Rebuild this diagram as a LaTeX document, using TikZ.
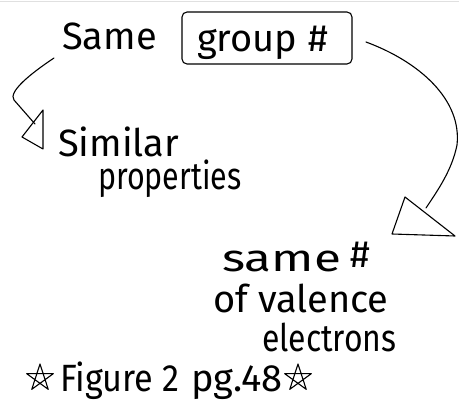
\documentclass[tikz,border=0pt]{standalone}
\usepackage{fontspec}
\setmainfont{Fira Sans}
\usetikzlibrary{calc}
\begin{document}
\begin{tikzpicture}[x=1pt,y=-1pt,
  hand/.style={line width=1.1pt,line cap=round,line join=round},
  lbl/.style={inner sep=0pt,anchor=base west,font=\fontsize{38}{40}\selectfont},
  sx/.style={xscale=#1,transform shape}]
\useasboundingbox (0,0) rectangle (459,414);
\draw[black!12,line width=0.8pt] (0,1) -- (459,1);
% texts
\node[lbl] (same) at (62,50) {Same};
\node[lbl] (grptxt) at (197,52) {group\hspace{0.3em}\#};
\node[hand,draw,rounded corners=5pt,minimum width=170pt,minimum height=52pt] (grp) at (267,38) {};
\node[lbl] (sim) at (58,157) {Similar};
\node[lbl,sx=0.8] (prop) at (98,190) {properties};
\node[lbl,sx=1.3] (val1) at (222,272) {same};
\node[lbl] (val1b) at (350,268) {\#};
\node[lbl] (val2) at (213,313) {of valence};
\node[lbl,sx=0.84] (val3) at (262,352) {electrons};
\node[lbl,sx=0.9] (fig) at (60,392) {Figure 2};
\node[lbl] (pg) at (191,392) {pg.48};
% stars
\foreach \n/\px/\py in {s1/40/378,s2/298/378}{
  \coordinate (\n) at (\px,\py);
  \draw[hand] ($(\n)+(270:14)$) -- ($(\n)+(54:14)$) -- ($(\n)+(198:14)$) -- ($(\n)+(342:14)$) -- ($(\n)+(126:14)$) -- cycle;
}
% left connector
\coordinate (la) at (54,58);
\coordinate (lb) at (35,124);
\draw[hand] (la) .. controls (30,74) and (8,92) .. (14,100) -- (lb);
\draw[hand] (43,110) -- (22,137) -- (43,149) -- cycle;
% right connector
\coordinate (ra) at (366,42);
\coordinate (rb) at (426,208);
\draw[hand] (ra) .. controls (420,62) and (462,100) .. (457,145) .. controls (452,170) and (438,190) .. (rb);
\draw[hand] (405,197) -- (392,234) -- (455,236) -- cycle;
\end{tikzpicture}
\end{document}
